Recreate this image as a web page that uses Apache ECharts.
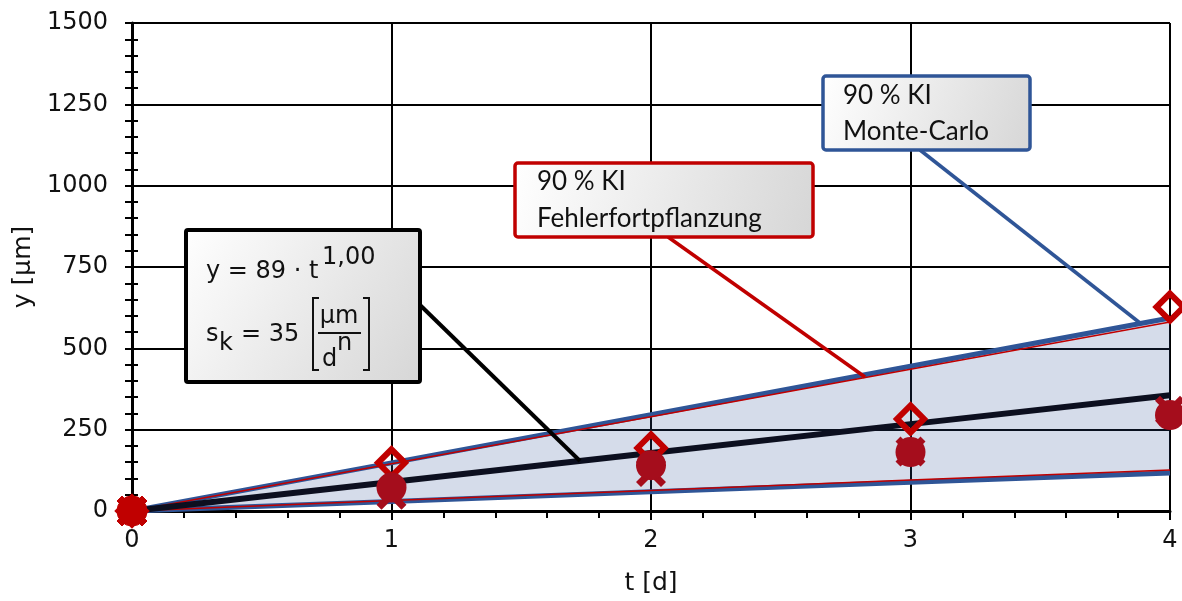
<!DOCTYPE html>
<html>
<head>
<meta charset="utf-8">
<script src="https://cdn.jsdelivr.net/npm/echarts@6/dist/echarts.min.js"></script>
<style>html,body{margin:0;padding:0;background:#fff}#c{width:1182px;height:601px}</style>
</head>
<body>
<div id="c"></div>
<script>
// ---- data ----
const tValues = [0, 1, 2, 3, 4];
const fitLine = [0, 89, 178, 267, 356];            // y = 89 * t^1,00
const upperMonteCarlo = [0, 148, 296, 445, 593];
const lowerMonteCarlo = [0, 29, 59, 88, 117];
const upperFehler = [0, 145, 290, 436, 581];
const lowerFehler = [0, 32, 63, 95, 126];
const diamondPts = [0, 148, 194, 283, 627];
const circlePts = [0, 72, 141, 181, 295];
const crossPts = [0, 50, 120, 183, 308];
const yTicks = [0, 250, 500, 750, 1000, 1250, 1500];
const xTicks = [0, 1, 2, 3, 4];

const RED = '#c00000', DRED = '#a50d1c', BLUE = '#2f5597', INK = '#0c0f1f';
const AR = 'DejaVu Sans', CAL = 'Lato';

const pairs = arr => tValues.map((t, i) => [t, arr[i]]);
const originColor = (arr, c) => tValues.map((t, i) => i === 0 ? {value: [t, arr[i]], itemStyle: {color: c, borderColor: RED}} : [t, arr[i]]);
const crossPath = 'path://M0,4 L4,0 L12,8 L20,0 L24,4 L16,12 L24,20 L20,24 L12,16 L4,24 L0,20 L8,12 Z';

const chart = echarts.init(document.getElementById('c'), null, {renderer: 'canvas'});
const grad = {type: 'linear', x: 0, y: 0, x2: 1, y2: 1, colorStops: [{offset: 0, color: '#ffffff'}, {offset: 1, color: '#d6d6d6'}]};

function txt(x, y, s, font, align) {
  return {type: 'text', z: 102, style: {x: x, y: y, text: s, font: font, fill: '#111', verticalAlign: 'middle', align: align || 'left'}};
}
const f24 = '24px "' + AR + '"';
const f26 = '26px "' + CAL + '"';

const option = {
  animation: false,
  backgroundColor: '#fff',
  grid: {left: 132, right: 12, top: 23, bottom: 90, containLabel: false},
  xAxis: {
    type: 'value', min: xTicks[0], max: xTicks[xTicks.length - 1], interval: 1,
    name: 't [d]', nameLocation: 'middle', nameGap: 60,
    nameTextStyle: {fontFamily: AR, fontSize: 25, color: '#111'},
    axisLine: {show: true, onZero: false, lineStyle: {color: '#000', width: 3}},
    axisTick: {show: true, inside: false, length: 9, lineStyle: {color: '#000', width: 2}},
    minorTick: {show: true, splitNumber: 5, length: 7, lineStyle: {color: '#000', width: 2}},
    axisLabel: {fontFamily: AR, fontSize: 24, color: '#111', margin: 18, formatter: v => String(v)},
    splitLine: {show: true, lineStyle: {color: '#000', width: 2}}
  },
  yAxis: [{
    type: 'value', min: yTicks[0], max: yTicks[yTicks.length - 1], interval: 250,
    name: 'y [µm]', nameLocation: 'middle', nameGap: 86, nameRotate: 90,
    nameTextStyle: {fontFamily: AR, fontSize: 25, color: '#111'},
    axisLine: {show: true, onZero: false, lineStyle: {color: '#000', width: 3}},
    axisTick: {show: true, inside: false, length: 7, lineStyle: {color: '#000', width: 2}},
    minorTick: {show: true, splitNumber: 5, length: 7, lineStyle: {color: '#000', width: 2}},
    axisLabel: {fontFamily: AR, fontSize: 24, color: '#111', margin: 24, formatter: v => String(v)},
    splitLine: {show: true, lineStyle: {color: '#000', width: 2}}
  }, {
    type: 'value', min: yTicks[0], max: yTicks[yTicks.length - 1], interval: 250, position: 'left',
    axisLine: {show: false}, axisLabel: {show: false}, splitLine: {show: false},
    axisTick: {show: true, inside: true, length: 6, lineStyle: {color: '#000', width: 2}},
    minorTick: {show: true, splitNumber: 5, length: 6, lineStyle: {color: '#000', width: 2}}
  }],
  series: [
    {type: 'custom', name: 'band', coordinateSystem: 'cartesian2d', data: [[0, 0]], z: 1, silent: true, clip: false,
      renderItem: function (params, api) {
        const pts = [];
        tValues.forEach((t, i) => pts.push(api.coord([t, upperMonteCarlo[i]])));
        for (let i = tValues.length - 1; i >= 0; i--) pts.push(api.coord([tValues[i], lowerMonteCarlo[i]]));
        return {type: 'polygon', shape: {points: pts}, style: {fill: 'rgba(44,82,148,0.2)'}};
      }},
    {type: 'line', name: 'MC unten', data: pairs(lowerMonteCarlo), symbol: 'none', lineStyle: {color: BLUE, width: 5}, z: 3},
    {type: 'line', name: 'MC oben', data: pairs(upperMonteCarlo), symbol: 'none', lineStyle: {color: BLUE, width: 5}, z: 3},
    {type: 'line', name: 'FF unten', data: pairs(lowerFehler), symbol: 'none', lineStyle: {color: RED, width: 1.5}, z: 4},
    {type: 'line', name: 'FF oben', data: pairs(upperFehler), symbol: 'none', lineStyle: {color: RED, width: 1.5}, z: 4},
    {type: 'line', name: 'Fit', data: pairs(fitLine), symbol: 'none', lineStyle: {color: INK, width: 6}, z: 5},
    {type: 'scatter', name: 'Raute', data: originColor(diamondPts, RED), symbol: 'diamond', symbolSize: 27, clip: false,
      itemStyle: {color: 'rgba(0,0,0,0)', borderColor: RED, borderWidth: 6, opacity: 1}, z: 6},
    {type: 'scatter', name: 'Kreuz', data: originColor(crossPts, RED), symbol: crossPath, symbolSize: 30, clip: false,
      itemStyle: {color: DRED, opacity: 1}, z: 7},
    {type: 'scatter', name: 'Kreis', data: originColor(circlePts, RED), symbol: 'circle', symbolSize: 30, clip: false,
      itemStyle: {color: DRED, opacity: 1}, z: 8}
  ],
  graphic: [
    // leader lines
    {type: 'line', z: 95, shape: {x1: 420, y1: 305, x2: 580, y2: 461}, style: {stroke: '#000', lineWidth: 4}},
    {type: 'line', z: 95, shape: {x1: 668, y1: 237, x2: 865, y2: 377}, style: {stroke: RED, lineWidth: 3.5}},
    {type: 'line', z: 95, shape: {x1: 920, y1: 150, x2: 1140, y2: 323}, style: {stroke: BLUE, lineWidth: 3.5}},
    // box 1
    {type: 'rect', z: 100, shape: {x: 186, y: 230, width: 234, height: 152, r: 2}, style: {fill: grad, stroke: '#000', lineWidth: 4}},
    txt(206, 271.5, 'y = 89 · t', f24),
    txt(322, 257.5, '1,00', f24),
    txt(206, 334.5, 's', f24),
    txt(219, 343.5, 'k', f24),
    txt(241, 334.5, '= 35', f24),
    {type: 'polyline', z: 102, shape: {points: [[319, 298], [313, 298], [313, 370], [319, 370]]}, style: {stroke: '#111', lineWidth: 2, fill: null}},
    {type: 'polyline', z: 102, shape: {points: [[363, 298], [369, 298], [369, 370], [363, 370]]}, style: {stroke: '#111', lineWidth: 2, fill: null}},
    txt(339, 316.5, 'µm', f24, 'center'),
    {type: 'line', z: 102, shape: {x1: 318, y1: 333, x2: 361, y2: 333}, style: {stroke: '#111', lineWidth: 2}},
    txt(322, 359.5, 'd', f24),
    txt(337, 344, 'n', f24),
    // box 2
    {type: 'rect', z: 100, shape: {x: 515, y: 163, width: 298, height: 74, r: 3}, style: {fill: grad, stroke: RED, lineWidth: 3.5}},
    txt(537, 182, '90 % KI', f26),
    txt(537, 219, 'Fehlerfortpflanzung', f26),
    // box 3
    {type: 'rect', z: 100, shape: {x: 823, y: 76, width: 207, height: 74, r: 3}, style: {fill: grad, stroke: BLUE, lineWidth: 3.5}},
    txt(843, 96, '90 % KI', f26),
    txt(843, 132, 'Monte-Carlo', f26)
  ]
};
chart.setOption(option);
</script>
</body>
</html>
